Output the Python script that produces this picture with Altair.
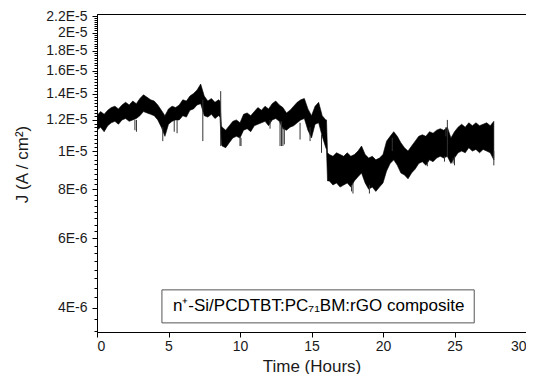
import altair as alt
import pandas as pd

FONT = "Liberation Sans"

# time (hours) and upper / lower envelope of the noisy trace (J in 1e-6 A/cm^2)
time_h = [0, 0.25, 0.5, 0.75, 1.0, 1.25, 1.5, 1.75, 2.0, 2.25, 2.5, 2.75, 3.0, 3.25, 3.5, 3.75,
          4.0, 4.25, 4.5, 4.75, 5.0, 5.25, 5.5, 5.75, 6.0, 6.25, 6.5, 6.75, 7.0, 7.25, 7.5, 7.75,
          8.0, 8.25, 8.5, 8.6, 8.7, 8.75, 9.0, 9.25, 9.5, 9.75, 10.0, 10.25, 10.5, 10.75, 11.0, 11.25,
          11.5, 11.75, 12.0, 12.25, 12.5, 12.75, 13.0, 13.25, 13.5, 13.75, 14.0, 14.25, 14.5, 14.75,
          15.0, 15.25, 15.5, 15.75, 16.0, 16.05, 16.12, 16.25, 16.5, 16.75, 17.0, 17.25, 17.5, 17.75,
          18.0, 18.25, 18.5, 18.75, 19.0, 19.25, 19.5, 19.75, 20.0, 20.25, 20.5, 20.75, 21.0, 21.25,
          21.5, 21.75, 22.0, 22.25, 22.5, 22.75, 23.0, 23.25, 23.5, 23.75, 24.0, 24.25, 24.5, 24.75,
          25.0, 25.25, 25.5, 25.75, 26.0, 26.25, 26.5, 26.75, 27.0, 27.25, 27.5, 27.75]
j_hi = [12.3, 12.6, 12.4, 12.7, 12.9, 13.0, 12.8, 13.1, 13.3, 13.1, 13.4, 13.2, 13.6, 13.9, 13.7, 13.5,
        13.4, 13.1, 12.7, 12.3, 12.8, 13.0, 12.9, 13.1, 13.5, 13.4, 13.8, 14.0, 14.3, 14.8, 13.8, 13.4,
        13.6, 13.3, 13.5, 13.4, 11.6, 11.5, 11.3, 11.6, 11.9, 12.0, 11.8, 12.4, 12.5, 12.3, 12.6, 12.9,
        12.7, 13.0, 12.8, 13.2, 13.4, 13.1, 12.9, 12.5, 12.7, 13.0, 13.3, 13.5, 13.6, 12.8,
        12.3, 13.0, 13.3, 12.3, 12.0, 12.0, 9.9, 9.8, 9.7, 9.9, 9.8, 9.7, 9.9, 9.7,
        9.8, 10.0, 10.3, 9.8, 9.6, 9.7, 9.5, 9.6, 9.8, 10.6, 10.9, 11.2, 10.9, 10.5,
        10.2, 10.0, 10.3, 10.6, 10.9, 11.0, 10.9, 11.2, 11.1, 11.3, 11.4, 11.3, 11.5, 10.8,
        11.2, 11.5, 11.7, 11.5, 11.8, 11.6, 11.8, 11.6, 11.7, 11.8, 11.6, 11.9]
j_lo = [11.3, 11.5, 11.2, 11.6, 11.8, 11.9, 11.7, 12.0, 12.1, 11.9, 12.0, 12.1, 12.3, 12.6, 12.5, 12.4,
        12.3, 12.0, 11.5, 10.9, 11.7, 11.9, 12.0, 12.0, 12.3, 12.2, 12.7, 12.8, 13.1, 13.2, 12.3, 12.2,
        12.4, 12.1, 12.3, 12.2, 10.4, 10.3, 10.2, 10.5, 10.8, 10.9, 10.8, 11.3, 11.4, 11.2, 11.6, 11.7,
        11.8, 11.9, 11.6, 12.0, 12.1, 11.9, 11.4, 11.3, 11.5, 11.6, 11.8, 12.0, 12.1, 11.3,
        10.8, 11.7, 11.8, 10.9, 10.2, 10.1, 8.4, 8.4, 8.2, 8.3, 8.1, 8.2, 8.3, 8.1,
        8.4, 8.6, 8.8, 8.3, 8.0, 8.1, 7.9, 8.1, 8.3, 8.9, 9.3, 9.5, 9.2, 8.8,
        8.7, 8.5, 8.8, 9.0, 9.3, 9.4, 9.2, 9.5, 9.4, 9.6, 9.7, 9.6, 9.7, 9.3,
        9.6, 9.9, 10.0, 9.9, 10.2, 10.0, 10.1, 9.9, 10.1, 10.0, 9.9, 9.5]

# narrow spikes in the trace
spike_t = [2.65, 2.76, 4.6, 5.4, 5.6, 7.4, 8.65, 10.0, 10.07, 12.1, 12.8, 12.9, 13.0, 13.1,
           14.2, 14.9, 15.7, 17.8, 17.9, 19.05, 20.65, 23.1, 24.3, 24.4, 24.5, 24.9, 25.0, 27.75]
spike_top = [12.0, 12.0, 11.5, 12.0, 12.0, 13.5, 14.2, 10.9, 10.8, 12.0, 11.9, 11.9, 11.5, 11.4,
             11.8, 11.5, 11.0, 8.2, 8.3, 8.2, 10.8, 9.4, 9.7, 11.5, 12.0, 9.6, 9.7, 10.0]
spike_bot = [11.3, 11.2, 10.6, 11.2, 11.1, 10.6, 10.3, 10.3, 10.3, 11.4, 10.3, 10.3, 10.3, 10.4,
             10.7, 10.6, 9.9, 7.9, 7.8, 7.8, 10.0, 9.15, 9.4, 10.9, 9.7, 9.3, 9.2, 9.2]

# axis ticks (J ticks in 1e-6)
y_tick_vals = [v / 4 for v in range(14, 89)]
x_tick_vals = [0, 2.5, 5, 7.5, 10, 12.5, 15, 17.5, 20, 22.5, 25, 27.5, 30]

legend_label = "n\u207a-Si/PCDTBT:PC\u2087\u2081BM:rGO composite"
legend_x = [4.54, 26.38]
legend_y = [3.66, 4.44]
legend_text_pos = [15.5, 4.03]

E = 1e-6
df = pd.DataFrame({"t": time_h, "hi": [v * E for v in j_hi], "lo": [v * E for v in j_lo]})
sp = pd.DataFrame({"t": spike_t, "top": [v * E for v in spike_top], "bot": [v * E for v in spike_bot]})
box = pd.DataFrame({"x1": [legend_x[0]], "x2": [legend_x[1]],
                    "y1": [legend_y[0] * E], "y2": [legend_y[1] * E],
                    "tx": [legend_text_pos[0]], "ty": [legend_text_pos[1] * E],
                    "label": [legend_label]})

xscale = alt.Scale(domain=[0, 30], nice=False)
yscale = alt.Scale(type="log", domain=[3.47e-6, 2.23e-5], nice=False)

major_y = "abs(datum.value*1e6 - round(datum.value*1e6)) < 0.01 && round(datum.value*1e6) % 2 == 0"
major_x = "datum.value % 5 == 0"

xaxis = alt.Axis(values=x_tick_vals, labelExpr=f"({major_x}) ? datum.value : ''",
                 tickSize={"condition": {"test": major_x, "value": 5}, "value": 3},
                 grid=False, labelOverlap=False, labelFont=FONT, labelFontSize=14,
                 labelColor="#1a1a1a", labelPadding=2, tickColor="black", domainColor="black",
                 title="Time (Hours)", titleFont=FONT, titleFontSize=17, titleFontWeight="normal",
                 titleColor="#1a1a1a", titleY=39, titleBaseline="alphabetic")
yaxis = alt.Axis(values=[v * E for v in y_tick_vals],
                 labelExpr=f"({major_y}) ? replace(format(datum.value, '.2~e'), 'e', 'E') : ''",
                 tickSize={"condition": {"test": major_y, "value": 5}, "value": 3},
                 grid=False, labelOverlap=False, labelFont=FONT, labelFontSize=14,
                 labelColor="#1a1a1a", labelPadding=5, tickColor="black", domainColor="black",
                 title="J (A / cm\u00b2)", titleFont=FONT, titleFontSize=17, titleFontWeight="normal",
                 titleColor="#1a1a1a", titleX=-66, titleY=150, titleAlign="center",
                 titleBaseline="bottom", titleAngle=270)

band = alt.Chart(df).mark_area(color="black", opacity=1, clip=True,
                                stroke="black", strokeWidth=0.6).encode(
    x=alt.X("t:Q", scale=xscale, axis=xaxis),
    y=alt.Y("lo:Q", scale=yscale, axis=yaxis),
    y2="hi:Q",
)
spikes = alt.Chart(sp).mark_rule(color="#333", strokeWidth=1).encode(
    x="t:Q", y="bot:Q", y2="top:Q"
)
rect = alt.Chart(box).mark_rect(fill="white", stroke="#555", strokeWidth=1).encode(
    x="x1:Q", x2="x2:Q", y="y1:Q", y2="y2:Q"
)
text = alt.Chart(box).mark_text(font=FONT, fontSize=17, color="black").encode(
    x="tx:Q", y="ty:Q", text="label:N"
)

chart = alt.layer(band, spikes, rect, text).properties(
    width=429, height=318,
    padding={"left": 89, "top": 6, "right": 0, "bottom": 42},
    autosize="none",
).configure_view(stroke="black", strokeWidth=1).configure_axis(domainWidth=1, tickWidth=1)

chart.save("out.html", embed_options={"renderer": "svg", "actions": False})
